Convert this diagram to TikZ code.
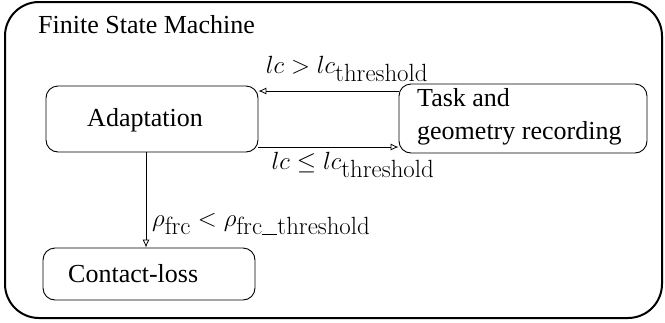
\documentclass[tikz,border=0pt]{standalone}
\usepackage[no-math]{fontspec}
\setmainfont{Liberation Serif}
\usetikzlibrary{arrows.meta}
\begin{document}
\begin{tikzpicture}[x=1pt,y=-1pt,
  every node/.style={font=\fontsize{26}{33}\selectfont},
  statebox/.style={draw, rounded corners=12pt, line width=0.9pt, inner sep=0pt},
  label text/.style={inner sep=0pt},
  cond/.style={inner sep=0pt, font=\fontsize{34}{38}\selectfont},
  trans/.style={draw, line width=0.8pt, -{Latex[open,length=8pt,width=7pt]}}]
\useasboundingbox (0,0) rectangle (665,322);

% outer frame
\draw[line width=2pt, rounded corners=34pt] (5,2) rectangle (662,318);
\node[label text, anchor=base west] (title) at (38,33) {Finite State Machine};

% states
\node[statebox, minimum width=212pt, minimum height=66pt] (adapt) at (152,119) {};
\node[label text] (adapttext) at (145,120) {Adaptation};

\node[statebox, minimum width=248pt, minimum height=69pt] (task) at (523,118.5) {};
\node[label text, anchor=west, align=left] (tasktext) at (417,117) {Task and\\geometry recording};

\node[statebox, minimum width=212pt, minimum height=52pt] (loss) at (149,274) {};
\node[label text, anchor=west] (losstext) at (68,274) {Contact-loss};

% transitions
\coordinate (tA) at (task.west |- 0,91);
\coordinate (aA) at (adapt.east |- 0,91);
\coordinate (aB) at (adapt.east |- 0,147);
\coordinate (tB) at (task.west |- 0,147);
\coordinate (aC) at (146,0 |- adapt.south);
\coordinate (lC) at (146,0 |- loss.north);
\draw[trans] (tA) -- (aA);
\draw[trans] (aB) -- (tB);
\draw[trans] (aC) -- (lC);

% conditions
\node[cond] (c1) at (347,69) {$lc > lc_{\mathrm{threshold}}$};
\node[cond] (c2) at (353,165) {$lc \le lc_{\mathrm{threshold}}$};
\node[cond, anchor=west] (c3) at (152,224) {$\rho_{\mathrm{frc}} < \rho_{\mathrm{frc\rule{0.45em}{0.04em}threshold}}$};
\end{tikzpicture}
\end{document}
